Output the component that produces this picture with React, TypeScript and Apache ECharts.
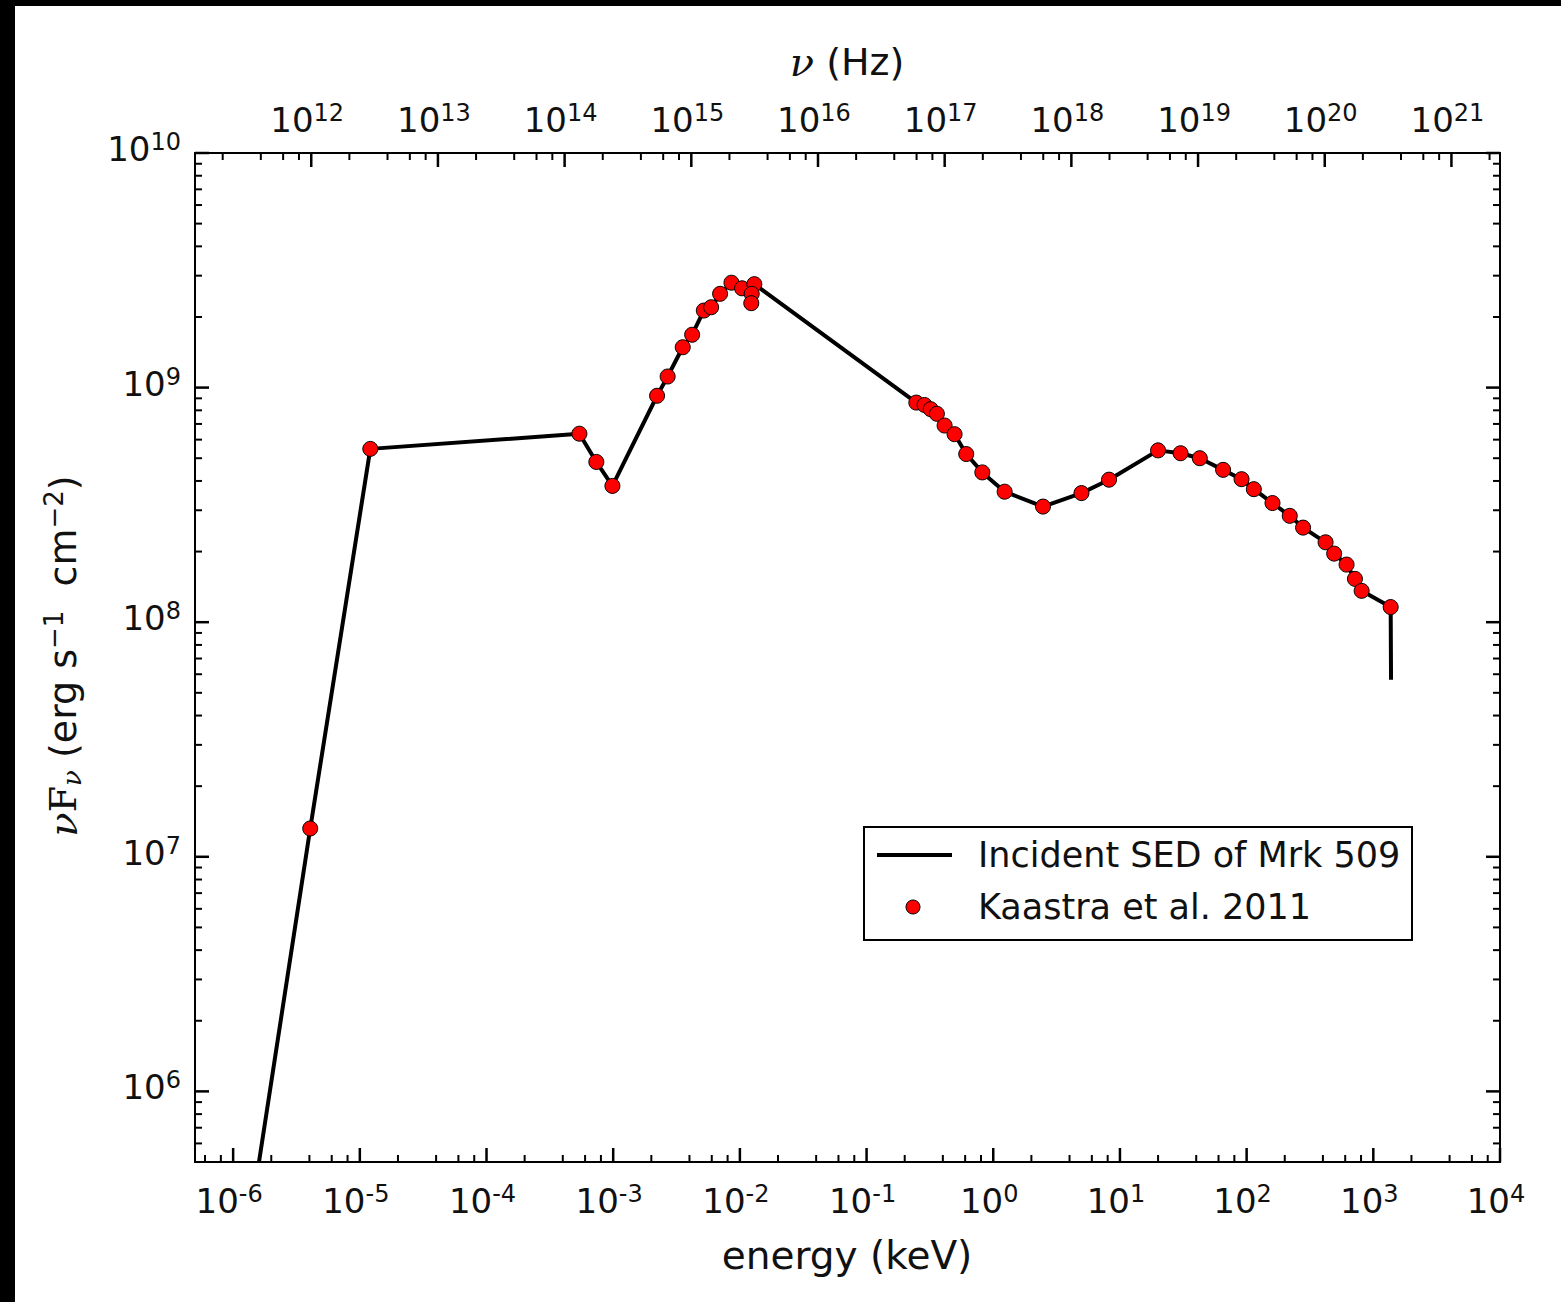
import React, { useEffect, useRef } from "react";
import * as echarts from "echarts";

// ---- constants / axis ranges ----
const HZ_PER_KEV = 2.417989e17;
const X_MIN = 5e-7;
const X_MAX = 1e4;
const Y_MIN = 5e5;
const Y_MAX = 1e10;

// ---- model SED line (energy keV, nuFnu) ----
const sedEnergyKeV = [
  1.6e-6, 4.06e-6, 1.21e-5, 5.41e-4, 7.36e-4, 9.86e-4, 2.22e-3, 2.69e-3, 3.54e-3, 4.2e-3,
  5.19e-3, 5.93e-3, 6.98e-3, 8.58e-3, 1.04e-2, 1.3e-2, 0.247, 0.287, 0.321, 0.359,
  0.413, 0.495, 0.612, 0.82, 1.23, 2.47, 4.97, 8.2, 20.0, 30.1,
  42.7, 65.2, 91.2, 114, 160, 219, 279, 420, 491, 615,
  716, 809, 1371, 1380,
];
const sedNuFnu = [
  5.0e5, 1.32e7, 5.48e8, 6.36e8, 4.82e8, 3.81e8, 9.23e8, 1.115e9, 1.486e9, 1.68e9,
  2.13e9, 2.2e9, 2.51e9, 2.8e9, 2.65e9, 2.76e9, 8.63e8, 8.43e8, 8.09e8, 7.73e8,
  6.89e8, 6.33e8, 5.21e8, 4.35e8, 3.6e8, 3.11e8, 3.55e8, 4.05e8, 5.4e8, 5.25e8,
  5.0e8, 4.46e8, 4.07e8, 3.69e8, 3.22e8, 2.84e8, 2.53e8, 2.19e8, 1.96e8, 1.76e8,
  1.53e8, 1.36e8, 1.16e8, 5.69e7,
];

// ---- Kaastra et al. 2011 points ----
const kaastraEnergyKeV = [
  4.06e-6, 1.21e-5, 5.41e-4, 7.36e-4, 9.86e-4, 2.22e-3, 2.69e-3, 3.54e-3, 4.2e-3, 5.19e-3,
  5.93e-3, 6.98e-3, 8.58e-3, 1.04e-2, 1.3e-2, 1.24e-2, 1.23e-2, 0.247, 0.287, 0.321,
  0.359, 0.413, 0.495, 0.612, 0.82, 1.23, 2.47, 4.97, 8.2, 20.0,
  30.1, 42.7, 65.2, 91.2, 114, 160, 219, 279, 420, 491,
  615, 716, 809, 1371,
];
const kaastraNuFnu = [
  1.32e7, 5.48e8, 6.36e8, 4.82e8, 3.81e8, 9.23e8, 1.115e9, 1.486e9, 1.68e9, 2.13e9,
  2.2e9, 2.51e9, 2.8e9, 2.65e9, 2.76e9, 2.51e9, 2.29e9, 8.63e8, 8.43e8, 8.09e8,
  7.73e8, 6.89e8, 6.33e8, 5.21e8, 4.35e8, 3.6e8, 3.11e8, 3.55e8, 4.05e8, 5.4e8,
  5.25e8, 5.0e8, 4.46e8, 4.07e8, 3.69e8, 3.22e8, 2.84e8, 2.53e8, 2.19e8, 1.96e8,
  1.76e8, 1.53e8, 1.36e8, 1.16e8,
];

// ---- tick definitions ----
const xTickMantissas = [1, 2, 4, 6, 8];
const yTickMantissas = [1, 2, 3, 4, 5, 6, 7, 8, 9];
const energyDecades = [-7, -6, -5, -4, -3, -2, -1, 0, 1, 2, 3, 4];
const nuDecades = [11, 12, 13, 14, 15, 16, 17, 18, 19, 20, 21];
const fluxDecades = [5, 6, 7, 8, 9, 10];

const legendNames = ["Incident SED of Mrk 509", "Kaastra et al. 2011"];

const FONT = '"DejaVu Sans", sans-serif';
const SERIF = '"DejaVu Serif", serif';

function buildTicks(decades: number[], mantissas: number[], lo: number, hi: number) {
  const out: number[][] = [];
  for (const d of decades) {
    for (const m of mantissas) {
      const v = m * Math.pow(10, d);
      if (v >= lo * (1 - 1e-9) && v <= hi * (1 + 1e-9)) out.push([v, m === 1 ? 1 : 0]);
    }
  }
  return out;
}

const TICK_RICH = {
  b: { fontSize: 34, fontFamily: FONT, lineHeight: 38, fill: "#111" },
  s: { fontSize: 24, fontFamily: FONT, lineHeight: 10, verticalAlign: "top", fill: "#111" },
};

function expLabel(v: number) {
  const e = Math.round(Math.log10(v));
  return `{b|10}{s|${e}}`;
}

export default function App() {
  const ref = useRef<HTMLDivElement>(null);

  useEffect(() => {
    document.body.style.margin = "0";
    if (!ref.current) return;
    const chart = echarts.init(ref.current, undefined, { renderer: "svg" });

    const eTicks = buildTicks(energyDecades, xTickMantissas, X_MIN, X_MAX);
    const nuTicks = buildTicks(nuDecades, xTickMantissas, X_MIN * HZ_PER_KEV, X_MAX * HZ_PER_KEV);
    const yTicks = buildTicks(fluxDecades, yTickMantissas, Y_MIN, Y_MAX);

    const hiddenAxis = {
      axisLine: { show: false },
      axisTick: { show: false },
      axisLabel: { show: false },
      splitLine: { show: false },
      minorTick: { show: false },
      minorSplitLine: { show: false },
    };

    const option: any = {
      animation: false,
      backgroundColor: "#fff",
      grid: {
        left: 195,
        top: 153,
        right: 61,
        bottom: 140,
        show: true,
        borderColor: "#000",
        borderWidth: 2,
        backgroundColor: "transparent",
      },
      xAxis: [
        { type: "log", logBase: 10, min: X_MIN, max: X_MAX, position: "bottom", ...hiddenAxis },
        {
          type: "log",
          logBase: 10,
          min: X_MIN * HZ_PER_KEV,
          max: X_MAX * HZ_PER_KEV,
          position: "top",
          ...hiddenAxis,
        },
      ],
      yAxis: [{ type: "log", logBase: 10, min: Y_MIN, max: Y_MAX, ...hiddenAxis }],
      series: [
        {
          type: "line",
          name: legendNames[0],
          xAxisIndex: 0,
          yAxisIndex: 0,
          data: sedEnergyKeV.map((e, i) => [e, sedNuFnu[i]]),
          symbol: "none",
          clip: true,
          lineStyle: { color: "#000", width: 4, join: "round" },
          z: 2,
        },
        {
          type: "scatter",
          name: legendNames[1],
          xAxisIndex: 0,
          yAxisIndex: 0,
          data: kaastraEnergyKeV.map((e, i) => [e, kaastraNuFnu[i]]),
          symbol: "circle",
          symbolSize: 15,
          itemStyle: { color: "#ff0000", borderColor: "#000", borderWidth: 1, opacity: 1 },
          z: 3,
        },
        // bottom energy ticks + labels
        {
          type: "custom",
          xAxisIndex: 0,
          yAxisIndex: 0,
          silent: true,
          z: 5,
          encode: { x: 0, y: 1 },
          data: eTicks.map((t) => [t[0], Y_MIN, t[1]]),
          renderItem: (_p: any, api: any) => {
            const v = api.value(0);
            const major = api.value(2) === 1;
            const p = api.coord([v, Y_MIN]);
            const len = major ? 14 : 7;
            const children: any[] = [
              {
                type: "line",
                shape: { x1: p[0], y1: p[1], x2: p[0], y2: p[1] - len },
                style: { stroke: "#000", lineWidth: major ? 2.5 : 2 },
              },
            ];
            if (major) {
              children.push({
                type: "text",
                x: p[0] - 4,
                y: p[1] + 20,
                style: { text: expLabel(v), rich: TICK_RICH, align: "center", verticalAlign: "top", fill: "#111" },
              });
            }
            return { type: "group", children };
          },
        },
        // top frequency ticks + labels
        {
          type: "custom",
          xAxisIndex: 1,
          yAxisIndex: 0,
          silent: true,
          z: 5,
          encode: { x: 0, y: 1 },
          data: nuTicks.map((t) => [t[0], Y_MAX, t[1]]),
          renderItem: (_p: any, api: any) => {
            const v = api.value(0);
            const major = api.value(2) === 1;
            const p = api.coord([v, Y_MAX]);
            const len = major ? 14 : 7;
            const children: any[] = [
              {
                type: "line",
                shape: { x1: p[0], y1: p[1], x2: p[0], y2: p[1] + len },
                style: { stroke: "#000", lineWidth: major ? 2.5 : 2 },
              },
            ];
            if (major) {
              children.push({
                type: "text",
                x: p[0] - 4,
                y: p[1] - 14,
                style: { text: expLabel(v), rich: TICK_RICH, align: "center", verticalAlign: "bottom", fill: "#111" },
              });
            }
            return { type: "group", children };
          },
        },
        // left/right flux ticks + labels
        {
          type: "custom",
          xAxisIndex: 0,
          yAxisIndex: 0,
          silent: true,
          z: 5,
          encode: { x: 0, y: 1 },
          data: yTicks.map((t) => [X_MIN, t[0], t[1]]),
          renderItem: (_p: any, api: any) => {
            const v = api.value(1);
            const major = api.value(2) === 1;
            const pl = api.coord([X_MIN, v]);
            const pr = api.coord([X_MAX, v]);
            const len = major ? 14 : 7;
            const lw = major ? 2.5 : 2;
            const children: any[] = [
              { type: "line", shape: { x1: pl[0], y1: pl[1], x2: pl[0] + len, y2: pl[1] }, style: { stroke: "#000", lineWidth: lw } },
              { type: "line", shape: { x1: pr[0], y1: pr[1], x2: pr[0] - len, y2: pr[1] }, style: { stroke: "#000", lineWidth: lw } },
            ];
            if (major) {
              children.push({
                type: "text",
                x: pl[0] - 14,
                y: pl[1] - 4,
                style: { text: expLabel(v), rich: TICK_RICH, align: "right", verticalAlign: "middle", fill: "#111" },
              });
            }
            return { type: "group", children };
          },
        },
      ],
      graphic: [
        // black bands of the reference picture
        { type: "rect", shape: { x: 0, y: 0, width: 1561, height: 6 }, style: { fill: "#000" }, silent: true },
        { type: "rect", shape: { x: 0, y: 0, width: 15, height: 1302 }, style: { fill: "#000" }, silent: true },
        // axis titles
        {
          type: "text",
          x: 847,
          y: 1255,
          style: {
            text: "energy (keV)",
            font: `39px ${FONT}`,
            fill: "#111",
            align: "center",
            verticalAlign: "middle",
          },
        },
        {
          type: "text",
          x: 847,
          y: 62,
          style: {
            text: "{nu|ν}{t| (Hz)}",
            align: "center",
            verticalAlign: "middle",
            fill: "#111",
            rich: {
              nu: { fontSize: 40, fontFamily: SERIF, fontStyle: "italic", lineHeight: 44, fill: "#111" },
              t: { fontSize: 38, fontFamily: FONT, lineHeight: 44, fill: "#111" },
            },
          },
        },
        {
          type: "text",
          x: 63,
          y: 656,
          rotation: Math.PI / 2,
          style: {
            text: "{nu|ν}{F|F}{sub|ν}{t| (erg s}{sup|−1}{t|  cm}{sup|−2}{t|)}",
            align: "center",
            verticalAlign: "middle",
            fill: "#111",
            rich: {
              nu: { fontSize: 40, fontFamily: SERIF, fontStyle: "italic", lineHeight: 44, fill: "#111" },
              F: { fontSize: 38, fontFamily: SERIF, lineHeight: 44, fill: "#111" },
              sub: { fontSize: 26, fontFamily: SERIF, fontStyle: "italic", lineHeight: 10, verticalAlign: "bottom", fill: "#111" },
              t: { fontSize: 38, fontFamily: FONT, lineHeight: 44, fill: "#111" },
              sup: { fontSize: 26, fontFamily: FONT, lineHeight: 10, verticalAlign: "top", fill: "#111" },
            },
          },
        },
        // legend
        {
          type: "rect",
          z: 10,
          shape: { x: 864, y: 827, width: 548, height: 113 },
          style: { fill: "#fff", stroke: "#000", lineWidth: 2 },
        },
        {
          type: "line",
          z: 11,
          shape: { x1: 877, y1: 855, x2: 952, y2: 855 },
          style: { stroke: "#000", lineWidth: 4 },
        },
        {
          type: "circle",
          z: 11,
          shape: { cx: 913, cy: 907, r: 7 },
          style: { fill: "#ff0000", stroke: "#000", lineWidth: 1 },
        },
        {
          type: "text",
          z: 11,
          x: 978,
          y: 855,
          style: { text: legendNames[0], font: `35px ${FONT}`, fill: "#111", align: "left", verticalAlign: "middle" },
        },
        {
          type: "text",
          z: 11,
          x: 978,
          y: 907,
          style: { text: legendNames[1], font: `35px ${FONT}`, fill: "#111", align: "left", verticalAlign: "middle" },
        },
      ],
    };

    chart.setOption(option);
    return () => chart.dispose();
  }, []);

  return <div ref={ref} style={{ width: 1561, height: 1302 }} />;
}
